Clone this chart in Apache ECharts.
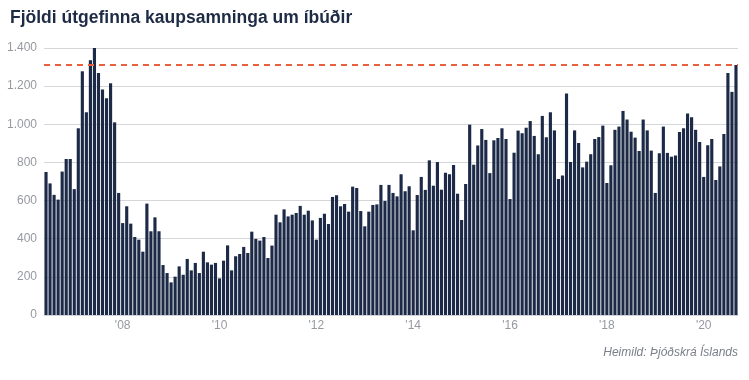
<!DOCTYPE html>
<html>
<head>
<meta charset="utf-8">
<script src="https://cdn.jsdelivr.net/npm/echarts@6/dist/echarts.min.js"></script>
<style>
  html, body { margin: 0; padding: 0; background: #ffffff; }
  #chart { width: 749px; height: 380px; }
</style>
</head>
<body>
<div id="chart"></div>
<script>
// Monthly data, June 2006 - September 2020
const startYear = 2006;
const startMonth = 6;
const contracts = [
  750, 690, 630, 605, 752, 818, 818, 660, 979, 1278, 1063, 1336, 1400, 1269, 1182, 1136, 1215, 1010,
  640, 482, 570, 479, 409, 395, 332, 584, 439, 512, 439, 262, 220, 171, 201, 255, 211, 294,
  234, 273, 220, 332, 276, 264, 273, 192, 285, 365, 234, 308, 320, 357, 325, 437, 399, 390,
  409, 299, 364, 526, 486, 554, 517, 526, 535, 572, 526, 547, 496, 395, 509, 531, 477, 619,
  628, 570, 582, 542, 673, 666, 545, 465, 542, 577, 580, 682, 598, 682, 640, 622, 738, 649,
  675, 444, 629, 724, 656, 811, 678, 802, 657, 746, 738, 787, 636, 498, 687, 998, 788, 889,
  975, 918, 744, 916, 928, 979, 923, 608, 851, 967, 953, 982, 1017, 939, 843, 1044, 932, 1063,
  968, 713, 731, 1161, 802, 968, 902, 774, 804, 843, 923, 933, 993, 692, 785, 971, 988, 1070,
  1025, 961, 930, 860, 1025, 968, 862, 640, 848, 988, 850, 830, 836, 960, 979, 1056, 1037, 971,
  907, 724, 890, 923, 708, 779, 949, 1269, 1170, 1311
];
const referenceValue = 1311;
const yTicks = [0, 200, 400, 600, 800, 1000, 1200, 1400];
const xTickLabels = ["'08", "'10", "'12", "'14", "'16", "'18", "'20"];
const xTickYears = [2008, 2010, 2012, 2014, 2016, 2018, 2020];

const months = [];
for (let i = 0; i < contracts.length; i++) {
  const m0 = startMonth - 1 + i;
  const y = startYear + Math.floor(m0 / 12);
  const m = (m0 % 12) + 1;
  months.push(y + '-' + (m < 10 ? '0' + m : m));
}
function tickLabelFor(cat) {
  const parts = cat.split('-');
  if (parts[1] !== '01') return null;
  const k = xTickYears.indexOf(+parts[0]);
  return k >= 0 ? xTickLabels[k] : null;
}

const chart = echarts.init(document.getElementById('chart'), null, { renderer: 'canvas' });
chart.setOption({
  backgroundColor: '#ffffff',
  animation: false,
  title: {
    text: 'Fjöldi útgefinna kaupsamninga um íbúðir',
    left: 10, top: 9, padding: 0,
    textStyle: { fontFamily: 'Liberation Sans, Arial, sans-serif', fontSize: 17.5, fontWeight: 'bold', color: '#1e2b45' }
  },
  graphic: [{
    type: 'text',
    right: 11, top: 347,
    style: {
      text: 'Heimild: Þjóðskrá Íslands',
      font: 'italic 12px "Liberation Sans", Arial, sans-serif',
      fill: '#7b7f8a'
    }
  }],
  grid: { left: 44, right: 11, top: 48, bottom: 65, containLabel: false },
  xAxis: {
    type: 'category',
    data: months,
    axisLine: { show: true, lineStyle: { color: '#d0d3d8', width: 1 } },
    axisTick: { show: false },
    axisLabel: {
      interval: function (idx, val) { return tickLabelFor(val) !== null; },
      formatter: function (val) { return tickLabelFor(val) || ''; },
      color: '#96999f',
      fontFamily: 'Liberation Sans, Arial, sans-serif',
      fontSize: 12,
      margin: 5
    },
    splitLine: { show: false }
  },
  yAxis: {
    type: 'value',
    min: yTicks[0], max: yTicks[yTicks.length - 1], interval: 200,
    axisLine: { show: false },
    axisTick: { show: false },
    axisLabel: {
      formatter: function (v) { return String(v).replace(/\B(?=(\d{3})+(?!\d))/g, '.'); },
      color: '#96999f',
      fontFamily: 'Liberation Sans, Arial, sans-serif',
      fontSize: 12,
      margin: 7
    },
    splitLine: { show: true, lineStyle: { color: '#d4d6da', width: 1 } }
  },
  series: [{
    type: 'bar',
    data: contracts,
    barCategoryGap: '22%',
    itemStyle: { color: '#1c2a47' },
    markLine: {
      silent: true,
      symbol: ['none', 'none'],
      label: { show: false },
      lineStyle: { color: '#e8603c', type: [6, 5], width: 2 },
      data: [{ yAxis: referenceValue }]
    }
  }]
});
</script>
</body>
</html>
